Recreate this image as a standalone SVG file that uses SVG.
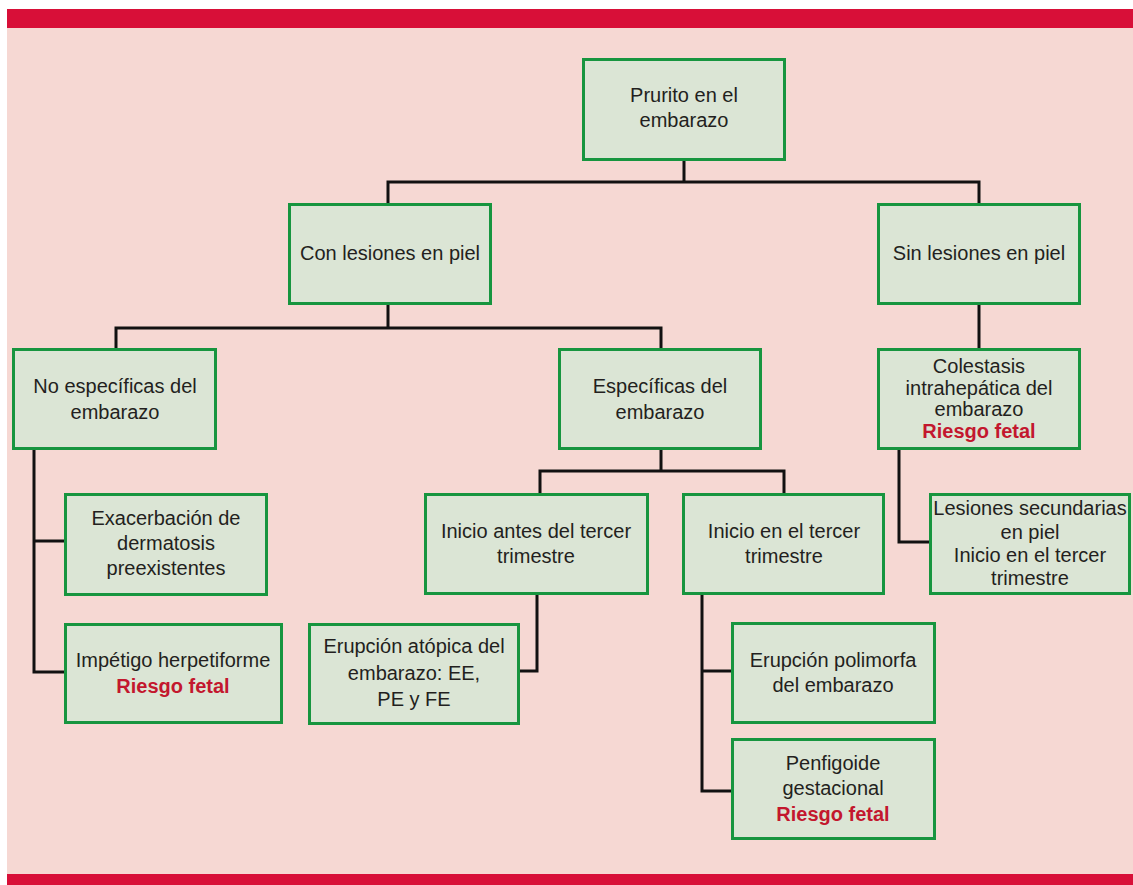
<svg xmlns="http://www.w3.org/2000/svg" width="1133" height="885" viewBox="0 0 1133 885">
<style>
.box{fill:#dbe5d5;stroke:#17953f;stroke-width:3}
.t{font-family:"Liberation Sans",Arial,sans-serif;font-size:20px;fill:#231f20;text-anchor:middle}
.r{font-weight:bold;fill:#c3172e}
.c{fill:none;stroke:#111;stroke-width:3}
</style>
<rect x="0" y="0" width="1133" height="885" fill="#ffffff"/>
<rect x="7" y="28" width="1126" height="846" fill="#f6d8d3"/>
<rect x="7" y="9" width="1126" height="19" fill="#d80f38"/>
<rect x="7" y="874" width="1126" height="11" fill="#d80f38"/>
<g id="connectors">
<path class="c" d="M684 160 V182 M388 203 V182 H979 V203"/>
<path class="c" d="M388 305 V328 M116 348 V328 H661 V348"/>
<path class="c" d="M979 305 V348"/>
<path class="c" d="M34 450 V672 H64 M34 541 H64"/>
<path class="c" d="M661 450 V471 M540 493 V471 H784 V493"/>
<path class="c" d="M537 595 V671 H520"/>
<path class="c" d="M702 595 V791 H731 M702 671 H731"/>
<path class="c" d="M899 450 V542 H929"/>
</g>
<g id="root"><rect class="box" x="583.5" y="59.5" width="201" height="100"/>
<text class="t" x="684" y="102">Prurito en el</text><text class="t" x="684" y="127">embarazo</text></g>
<g id="con"><rect class="box" x="289.5" y="204.5" width="201" height="99"/>
<text class="t" x="390" y="260">Con lesiones en piel</text></g>
<g id="sin"><rect class="box" x="878.5" y="204.5" width="201" height="99"/>
<text class="t" x="979" y="260">Sin lesiones en piel</text></g>
<g id="noesp"><rect class="box" x="13.5" y="349.5" width="202" height="99"/>
<text class="t" x="115" y="393">No específicas del</text><text class="t" x="115" y="419">embarazo</text></g>
<g id="esp"><rect class="box" x="559.5" y="349.5" width="201" height="99"/>
<text class="t" x="660" y="393">Específicas del</text><text class="t" x="660" y="419">embarazo</text></g>
<g id="colestasis"><rect class="box" x="878.5" y="349.5" width="201" height="99"/>
<text class="t" x="979" y="373">Colestasis</text><text class="t" x="979" y="395">intrahepática del</text><text class="t" x="979" y="416">embarazo</text><text class="t r" x="979" y="438">Riesgo fetal</text></g>
<g id="exacerbacion"><rect class="box" x="65.5" y="494.5" width="201" height="100"/>
<text class="t" x="166" y="525">Exacerbación de</text><text class="t" x="166" y="550">dermatosis</text><text class="t" x="166" y="575">preexistentes</text></g>
<g id="impetigo"><rect class="box" x="65.5" y="624.5" width="216" height="98"/>
<text class="t" x="173" y="667">Impétigo herpetiforme</text><text class="t r" x="173" y="693">Riesgo fetal</text></g>
<g id="antes"><rect class="box" x="425.5" y="494.5" width="222" height="99"/>
<text class="t" x="536" y="538">Inicio antes del tercer</text><text class="t" x="536" y="563">trimestre</text></g>
<g id="inicioen"><rect class="box" x="683.5" y="494.5" width="200" height="99"/>
<text class="t" x="784" y="538">Inicio en el tercer</text><text class="t" x="784" y="563">trimestre</text></g>
<g id="atopica"><rect class="box" x="309.5" y="624.5" width="209" height="99"/>
<text class="t" x="414" y="653">Erupción atópica del</text><text class="t" x="414" y="680">embarazo: EE,</text><text class="t" x="414" y="706">PE y FE</text></g>
<g id="secundarias"><rect class="box" x="930.5" y="494.5" width="199" height="99"/>
<text class="t" x="1030" y="515">Lesiones secundarias</text><text class="t" x="1030" y="539">en piel</text><text class="t" x="1030" y="562">Inicio en el tercer</text><text class="t" x="1030" y="585">trimestre</text></g>
<g id="polimorfa"><rect class="box" x="732.5" y="623.5" width="202" height="99"/>
<text class="t" x="833" y="667">Erupción polimorfa</text><text class="t" x="833" y="692">del embarazo</text></g>
<g id="penfigoide"><rect class="box" x="732.5" y="739.5" width="202" height="99"/>
<text class="t" x="833" y="770">Penfigoide</text><text class="t" x="833" y="795">gestacional</text><text class="t r" x="833" y="821">Riesgo fetal</text></g>
</svg>
